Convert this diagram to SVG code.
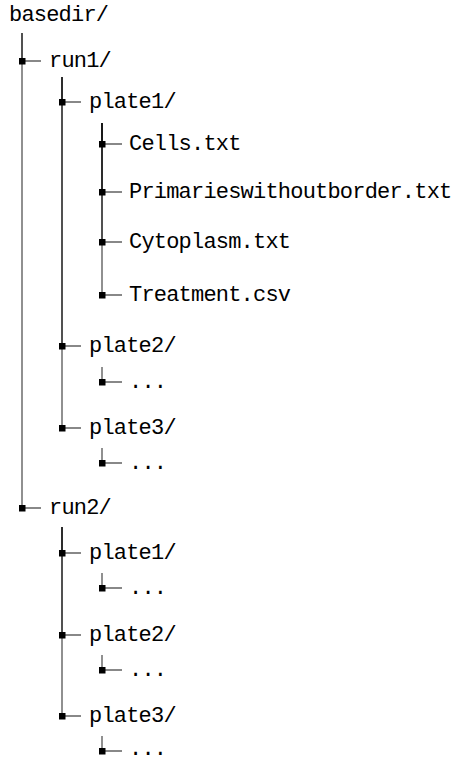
<svg xmlns="http://www.w3.org/2000/svg" width="462" height="759" viewBox="0 0 462 759">
<defs>
<marker id="sq" markerUnits="userSpaceOnUse" markerWidth="7" markerHeight="7" refX="3.5" refY="3.5" orient="0">
<rect x="0" y="0" width="7" height="7" fill="#000"/>
</marker>
<style>
text{font-family:"Liberation Mono","DejaVu Sans Mono",monospace;font-size:22px;letter-spacing:-0.8px;fill:#000}
.c path{fill:none;stroke:#000;stroke-opacity:0.62;stroke-width:1.4;marker-mid:url(#sq)}
</style>
</defs>
<rect width="462" height="759" fill="#fff"/>
<g class="c" id="connectors">
<path d="M22 33 V61 H41"/>
<path d="M22 33 V508 H41"/>
<path d="M62 77 V102 H81"/>
<path d="M62 77 V346 H81"/>
<path d="M62 77 V428 H81"/>
<path d="M102 123 V144 H122"/>
<path d="M102 123 V192 H122"/>
<path d="M102 123 V242 H122"/>
<path d="M102 123 V295 H122"/>
<path d="M102 367 V382 H122"/>
<path d="M102 448 V463 H122"/>
<path d="M62 527 V553 H81"/>
<path d="M62 527 V635 H81"/>
<path d="M62 527 V716 H81"/>
<path d="M102 573 V588 H122"/>
<path d="M102 655 V670 H122"/>
<path d="M102 736 V751 H122"/>
</g>
<g id="basedir"><text x="9" y="21">basedir/</text></g>
<g id="run1"><text x="49" y="67">run1/</text></g>
<g id="run1-plate1"><text x="89" y="108">plate1/</text></g>
<g id="cells"><text x="129" y="150">Cells.txt</text></g>
<g id="primaries"><text x="129" y="198">Primarieswithoutborder.txt</text></g>
<g id="cytoplasm"><text x="129" y="248">Cytoplasm.txt</text></g>
<g id="treatment"><text x="129" y="301">Treatment.csv</text></g>
<g id="run1-plate2"><text x="89" y="352">plate2/</text></g>
<g id="run1-plate2-more"><text x="129" y="388">...</text></g>
<g id="run1-plate3"><text x="89" y="434">plate3/</text></g>
<g id="run1-plate3-more"><text x="129" y="469">...</text></g>
<g id="run2"><text x="49" y="514">run2/</text></g>
<g id="run2-plate1"><text x="89" y="559">plate1/</text></g>
<g id="run2-plate1-more"><text x="129" y="594">...</text></g>
<g id="run2-plate2"><text x="89" y="641">plate2/</text></g>
<g id="run2-plate2-more"><text x="129" y="676">...</text></g>
<g id="run2-plate3"><text x="89" y="722">plate3/</text></g>
<g id="run2-plate3-more"><text x="129" y="755">...</text></g>
</svg>
